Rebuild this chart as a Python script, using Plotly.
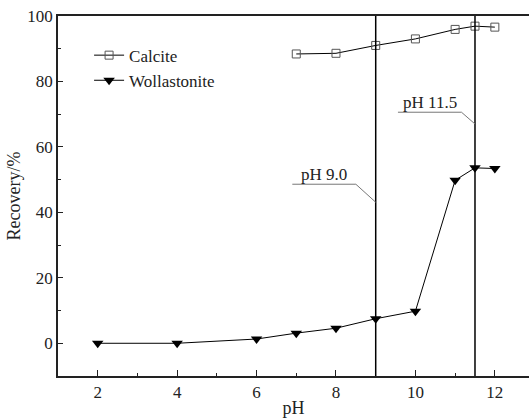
import plotly.graph_objects as go

calcite_ph = [7, 8, 9, 10, 11, 11.5, 12]
calcite_rec = [88.4, 88.6, 91.0, 93.0, 95.9, 96.9, 96.6]
wollastonite_ph = [2, 4, 6, 7, 8, 9, 10, 11, 11.5, 12]
wollastonite_rec = [0.0, 0.0, 1.3, 3.1, 4.6, 7.5, 9.8, 49.8, 53.6, 53.4]
x_ticks = [2, 4, 6, 8, 10, 12]
y_ticks = [0, 20, 40, 60, 80, 100]
ref_ph = [9.0, 11.5]
ref_labels = ["pH 9.0", "pH 11.5"]
# leader lines: (x_start, x_end_of_underline, y_underline, y_on_ref_line)
leader = [(6.9, 8.5, 48.6, 43.1), (9.56, 11.16, 70.6, 67.0)]

FONT = "Liberation Serif"

fig = go.Figure()
fig.add_trace(go.Scatter(
    x=calcite_ph, y=calcite_rec, name="Calcite", mode="lines+markers",
    line=dict(color="black", width=1),
    marker=dict(symbol="square-open", size=8, color="#555", line=dict(width=1)),
))
fig.add_trace(go.Scatter(
    x=wollastonite_ph, y=wollastonite_rec, name="Wollastonite", mode="lines+markers",
    line=dict(color="black", width=1),
    marker=dict(symbol="triangle-down", size=10, color="black"),
))

for xv in ref_ph:
    fig.add_shape(type="line", x0=xv, x1=xv, y0=0, y1=1, xref="x", yref="paper",
                  line=dict(color="black", width=1.5))

for (xs, xe, yu, yr), xv, lab in zip(leader, ref_ph, ref_labels):
    fig.add_shape(type="line", x0=xs, x1=xe, y0=yu, y1=yu, xref="x", yref="y",
                  line=dict(color="#777", width=1))
    fig.add_shape(type="line", x0=xe, x1=xv, y0=yu, y1=yr, xref="x", yref="y",
                  line=dict(color="#777", width=1))
    fig.add_annotation(x=(xs + xe) / 2, y=yu, text=lab, showarrow=False,
                       xanchor="center", yanchor="bottom", yshift=-2,
                       font=dict(family=FONT, size=17, color="#222"))

fig.update_layout(
    width=529, height=418,
    margin=dict(l=58, r=0, t=16, b=42),
    paper_bgcolor="white", plot_bgcolor="white",
    font=dict(family=FONT, size=17, color="#222"),
    showlegend=True,
    legend=dict(x=0.066, y=0.94, xanchor="left", yanchor="top",
                bgcolor="rgba(0,0,0,0)", font=dict(family=FONT, size=17, color="#222"),
                tracegroupgap=0, itemwidth=30),
    xaxis=dict(range=[1, 12.86], tickvals=x_ticks, showgrid=False, zeroline=False,
               showline=True, linecolor="#222", linewidth=1.5, mirror=True,
               ticks="inside", ticklen=6, tickcolor="#222",
               tickfont=dict(family=FONT, size=17),
               minor=dict(dtick=1, tick0=1, ticks="inside", ticklen=3, tickcolor="#222"),
               title=dict(text="pH", standoff=0, font=dict(family=FONT, size=18))),
    yaxis=dict(range=[-10, 100], tickvals=y_ticks, showgrid=False, zeroline=False,
               showline=True, linecolor="#222", linewidth=1.5,
               ticks="inside", ticklen=5, tickcolor="#222",
               tickfont=dict(family=FONT, size=17),
               minor=dict(dtick=10, tick0=10, ticks="inside", ticklen=3, tickcolor="#222"),
               title=dict(text="Recovery/%", standoff=2, font=dict(family=FONT, size=18))),
)

fig.write_html("out.html")
